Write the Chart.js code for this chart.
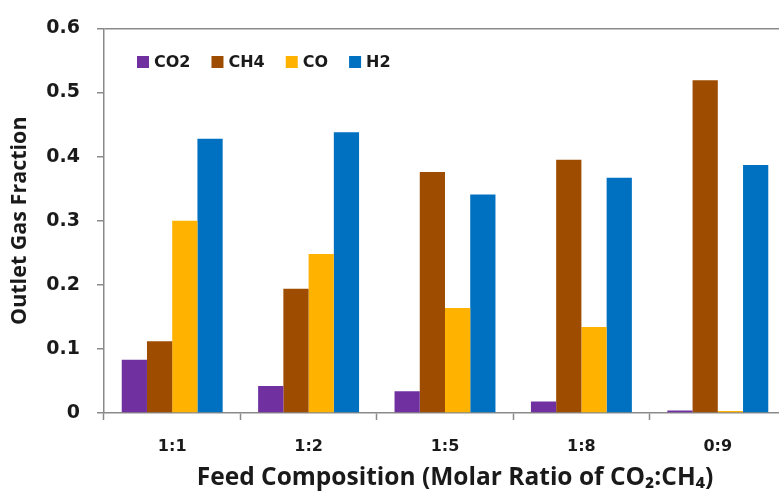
<!DOCTYPE html>
<html>
<head>
<meta charset="utf-8">
<script src="https://cdn.jsdelivr.net/npm/chart.js@4.4.1/dist/chart.umd.min.js"></script>
<style>
  html, body { margin: 0; padding: 0; background: #fff; overflow: hidden; }
  #wrap { width: 800px; height: 493px; }
</style>
</head>
<body>
<div id="wrap"><canvas id="c" width="800" height="493"></canvas></div>
<script>
const categories = ['1:1', '1:2', '1:5', '1:8', '0:9'];
const seriesNames = ['CO2', 'CH4', 'CO', 'H2'];
const co2 = [0.083, 0.042, 0.034, 0.018, 0.004];
const ch4 = [0.112, 0.194, 0.376, 0.395, 0.519];
const co  = [0.300, 0.248, 0.164, 0.134, 0.003];
const h2  = [0.428, 0.438, 0.341, 0.367, 0.387];
const yTickLabels = ['0', '0.1', '0.2', '0.3', '0.4', '0.5', '0.6'];
const xTitle = 'Feed Composition (Molar Ratio of CO\u2082:CH\u2084)';
const yTitle = 'Outlet Gas Fraction';
const seriesColors = ['#7030A0', '#9E4C00', '#FFB300', '#0070C0'];

const TICKFONT = "'DejaVu Sans', 'Liberation Sans', sans-serif";
const TITLEFONT = "'Open Sans', 'Liberation Sans', sans-serif";
const GRAY = '#8a8a8a';
const TEXT = '#1a1a1a';

const legendPlugin = {
  id: 'insideLegend',
  afterDraw(chart, args, opts) {
    const ctx = chart.ctx;
    ctx.save();
    ctx.font = 'bold 16px ' + TICKFONT;
    ctx.textBaseline = 'middle';
    ctx.textAlign = 'left';
    let x = opts.x;
    const y = opts.y;
    chart.data.datasets.forEach(ds => {
      ctx.fillStyle = ds.backgroundColor;
      ctx.fillRect(x, y - 6, 12, 12);
      x += 12 + 5;
      ctx.fillStyle = TEXT;
      ctx.fillText(ds.label, x, y + 1);
      x += ctx.measureText(ds.label).width + 21;
    });
    ctx.restore();
  }
};

const xTitlePlugin = {
  id: 'xTitle',
  afterDraw(chart, args, opts) {
    const ctx = chart.ctx;
    ctx.save();
    ctx.font = 'bold 24.5px ' + TITLEFONT;
    ctx.textBaseline = 'middle';
    ctx.textAlign = 'center';
    ctx.fillStyle = TEXT;
    ctx.fillText(opts.text, opts.x, opts.y);
    ctx.restore();
  }
};

const dataSets = [co2, ch4, co, h2].map((arr, i) => ({
  label: seriesNames[i],
  data: arr,
  backgroundColor: seriesColors[i],
  borderWidth: 0,
  barPercentage: 1.0,
  categoryPercentage: 0.74
}));

new Chart(document.getElementById('c'), {
  type: 'bar',
  data: { labels: categories, datasets: dataSets },
  plugins: [legendPlugin, xTitlePlugin],
  options: {
    responsive: false,
    animation: false,
    devicePixelRatio: 1,
    layout: { padding: { top: 24, right: 14, left: 0, bottom: 0 } },
    plugins: {
      legend: { display: false },
      tooltip: { enabled: false },
      insideLegend: { x: 137, y: 62 },
      xTitle: { text: xTitle, x: 455, y: 478 }
    },
    scales: {
      x: {
        afterFit: s => { s.height = 80; },
        grid: {
          offset: true,
          drawOnChartArea: false,
          tickLength: 7,
          tickColor: GRAY,
          tickWidth: 1.5
        },
        border: { color: GRAY, width: 1.5 },
        ticks: {
          color: TEXT,
          font: { family: TICKFONT, size: 16, weight: 'bold' },
          padding: 17
        }
      },
      y: {
        min: 0,
        max: 0.6,
        afterFit: s => { s.width = 104; },
        grid: {
          drawOnChartArea: true,
          color: c => (c.tick && Math.abs(c.tick.value - 0.6) < 1e-9) ? GRAY : 'rgba(0,0,0,0)',
          lineWidth: 1.5,
          tickLength: 7,
          tickColor: GRAY,
          tickWidth: 1.5
        },
        border: { color: GRAY, width: 1.5 },
        ticks: {
          stepSize: 0.1,
          color: TEXT,
          font: { family: TICKFONT, size: 19, weight: 'bold' },
          padding: 17,
          callback: (v, i) => yTickLabels[i]
        },
        title: {
          display: true,
          text: yTitle,
          color: TEXT,
          font: { family: TITLEFONT, size: 21.5, weight: 'bold' },
          padding: { top: 7, bottom: 0 }
        }
      }
    }
  }
});
</script>
</body>
</html>
